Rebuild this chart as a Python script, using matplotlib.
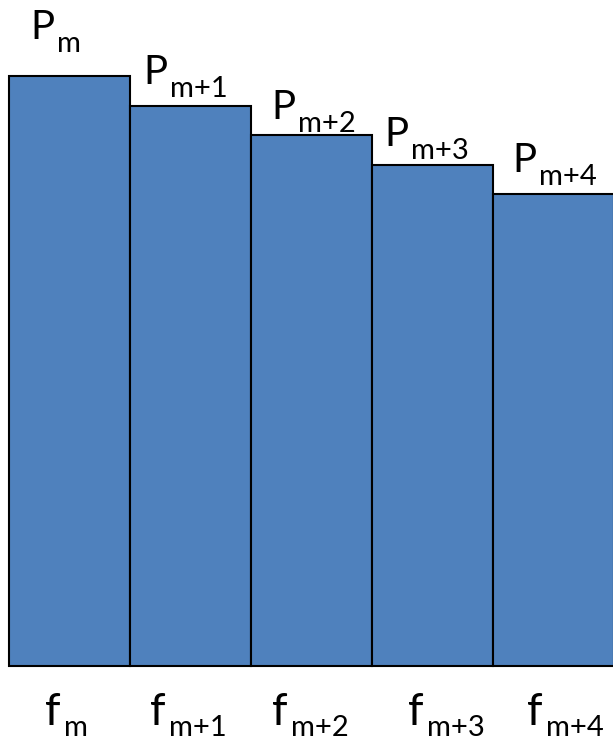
import matplotlib
matplotlib.use("Agg")
import matplotlib.pyplot as plt

plt.rcParams['font.family'] = ['Lato', 'DejaVu Sans']

# data: power of successive frequency bins
bins = [0, 1, 2, 3, 4]
power = [1.00, 0.95, 0.90, 0.85, 0.80]
p_subs = ['m', 'm+1', 'm+2', 'm+3', 'm+4']
f_subs = ['m', 'm+1', 'm+2', 'm+3', 'm+4']

PX = 0.72  # points per pixel at dpi 100

# label placement (pixels from the bar's left edge / top or bottom)
p_dx = [21, 13, 20, 12, 19]
p_gap = [24, 9, 3, 6, 9]
f_dx = [36, 20, 21, 36, 34]

fig = plt.figure(figsize=(6.13, 7.41), dpi=100)
ax = fig.add_axes([0, 0, 1, 1])

ax.bar(bins, power, width=1.0, color='#4F81BD', edgecolor='black', linewidth=1.5)


def label(x, y, dx, dy, main, sub, size, subsize, drop):
    t = ax.annotate(main, xy=(x, y), xytext=(dx * PX, dy * PX),
                    textcoords='offset points', ha='left', va='baseline',
                    fontsize=size)
    ax.annotate(sub, xy=(1, y), xycoords=(t, 'data'),
                xytext=(3 * PX, (dy - drop) * PX), textcoords='offset points',
                ha='left', va='baseline', fontsize=subsize)


for i, h in enumerate(power):
    left = bins[i] - 0.5
    label(left, h, p_dx[i], p_gap[i] + 13, 'P', p_subs[i], 29, 21, 13)
    label(left, 0, f_dx[i], -59, 'f', f_subs[i], 32, 21, 11)

ax.set_xlim(-0.574, 4.492)
ax.set_ylim(-0.127, 1.129)
ax.axis('off')

fig.savefig('out.png', dpi=100)
